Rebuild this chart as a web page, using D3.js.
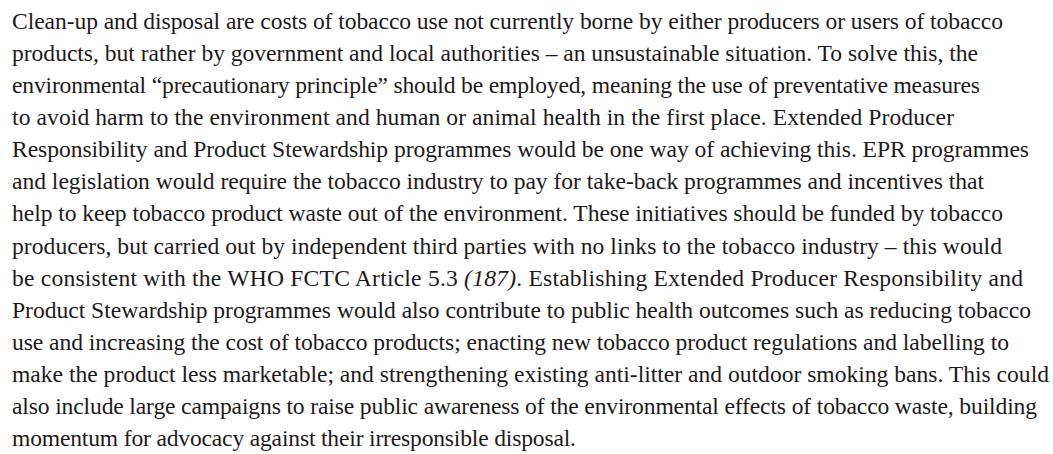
<!DOCTYPE html>
<html>
<head>
<meta charset="utf-8">
<script src="https://cdn.jsdelivr.net/npm/d3@7"></script>
<style>
  html, body { margin: 0; padding: 0; background: #ffffff; }
  svg { display: block; }
</style>
</head>
<body>
<div id="chart"></div>
<script>
// ---- content: one entry per printed line; segments marked italic with *...*
const lines = [
  "Clean-up and disposal are costs of tobacco use not currently borne by either producers or users of tobacco",
  "products, but rather by government and local authorities \u2013 an unsustainable situation. To solve this, the",
  "environmental \u201cprecautionary principle\u201d should be employed, meaning the use of preventative measures",
  "to avoid harm to the environment and human or animal health in the first place. Extended Producer",
  "Responsibility and Product Stewardship programmes would be one way of achieving this. EPR programmes",
  "and legislation would require the tobacco industry to pay for take-back programmes and incentives that",
  "help to keep tobacco product waste out of the environment. These initiatives should be funded by tobacco",
  "producers, but carried out by independent third parties with no links to the tobacco industry \u2013 this would",
  "be consistent with the WHO FCTC Article 5.3 *(187)*. Establishing Extended Producer Responsibility and",
  "Product Stewardship programmes would also contribute to public health outcomes such as reducing tobacco",
  "use and increasing the cost of tobacco products; enacting new tobacco product regulations and labelling to",
  "make the product less marketable; and strengthening existing anti-litter and outdoor smoking bans. This could",
  "also include large campaigns to raise public awareness of the environmental effects of tobacco waste, building",
  "momentum for advocacy against their irresponsible disposal."
];

// ---- layout (measured right edge of each printed line)
const layout = {
  width: 1053, height: 454,
  left: 12, firstBaseline: 29, lastBaseline: 446,
  fontSize: 23.6,
  rightEdges: [1003, 978, 980, 954, 1029, 984, 1003, 1002, 1023, 1031, 1009, 1049, 1037, 576]
};

const svg = d3.select("#chart").append("svg")
  .attr("width", layout.width)
  .attr("height", layout.height);

const y = d3.scaleLinear()
  .domain([0, lines.length - 1])
  .range([layout.firstBaseline, layout.lastBaseline]);

function segments(str) {
  return str.split("*").map((t, i) => ({ text: t, italic: i % 2 === 1 })).filter(s => s.text.length);
}

const texts = svg.append("g")
  .selectAll("text")
  .data(lines)
  .join("text")
  .attr("x", layout.left)
  .attr("y", (d, i) => y(i))
  .attr("fill", "#1e1a1b")
  .style("font-family", "'Liberation Serif', 'Times New Roman', serif")
  .style("font-size", layout.fontSize + "px")
  .style("font-kerning", "normal");

texts.selectAll("tspan")
  .data(d => segments(d))
  .join("tspan")
  .style("font-style", d => d.italic ? "italic" : "normal")
  .text(d => d.text);

// fit each line to its measured width via a small letter-spacing correction
texts.each(function (d, i) {
  const el = this;
  const natural = el.getComputedTextLength();
  const target = layout.rightEdges[i] - layout.left;
  const n = d.replace(/\*/g, "").length;
  const ls = (target - natural) / Math.max(1, n - 1);
  d3.select(el).style("letter-spacing", ls + "px");
});
</script>
</body>
</html>
